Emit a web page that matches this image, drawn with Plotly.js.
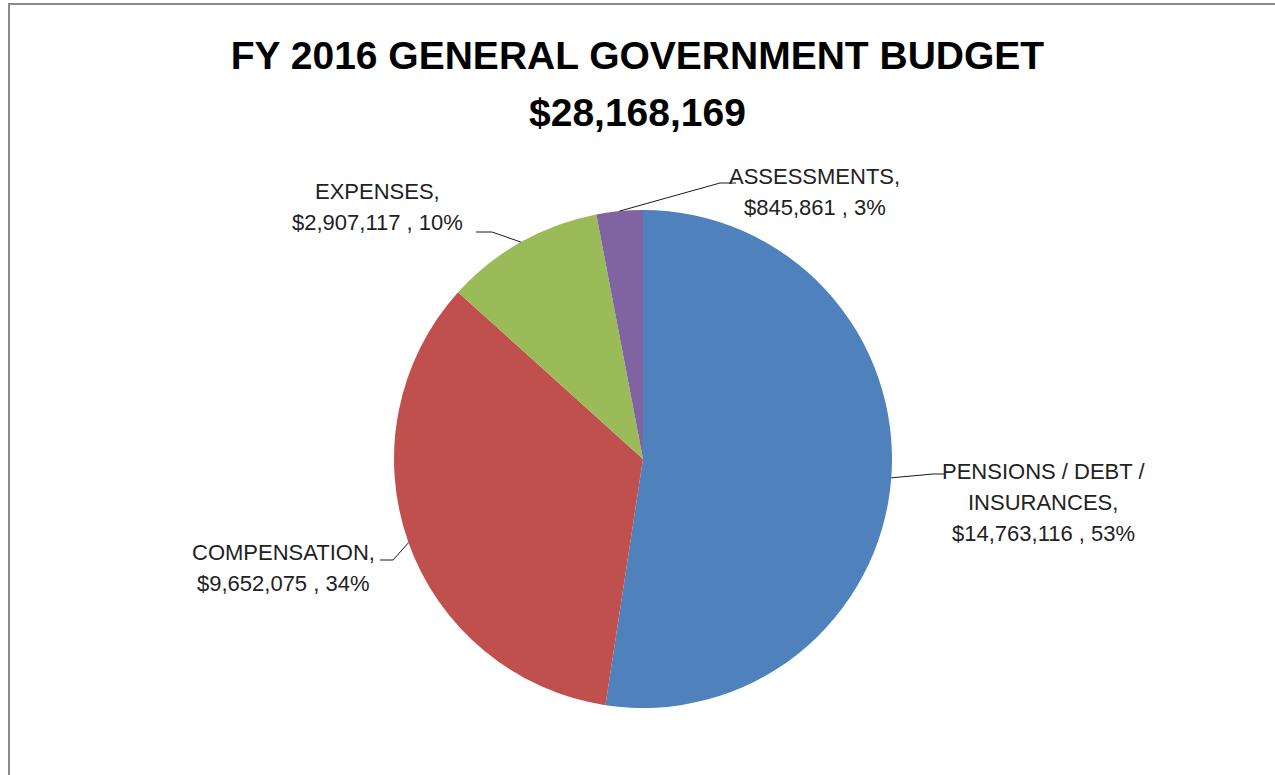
<!DOCTYPE html>
<html>
<head>
<meta charset="utf-8">
<script src="https://cdn.plot.ly/plotly-3.0.1.min.js"></script>
<style>
  html, body { margin: 0; padding: 0; background: #ffffff; }
  #wrap { position: relative; width: 1275px; height: 775px; overflow: hidden; }
  #chart { position: absolute; left: 0; top: 0; width: 1275px; height: 775px; }
  #frame { position: absolute; left: 8px; top: 3px; width: 1300px; height: 800px;
           border-left: 2px solid #8a8a8a; border-top: 2px solid #8a8a8a; pointer-events: none; }
</style>
</head>
<body>
<div id="wrap">
  <div id="chart"></div>
  <div id="frame"></div>
</div>
<script>
// ---------------- DATA ----------------
const categories = ['PENSIONS / DEBT / INSURANCES', 'COMPENSATION', 'EXPENSES', 'ASSESSMENTS'];
const categoryLines = [['PENSIONS / DEBT /', 'INSURANCES,'], ['COMPENSATION,'], ['EXPENSES,'], ['ASSESSMENTS,']];
const values = [14763116, 9652075, 2907117, 845861];
const percents = [53, 34, 10, 3];
const titleText = 'FY 2016 GENERAL GOVERNMENT BUDGET';

// ---------------- STYLE / LAYOUT ----------------
const colors = ['#4F81BD', '#C0504D', '#9BBB59', '#8064A2'];
const W = 1275, H = 775;
const cx = 643, cy = 459, R = 249;          // pie placement in pixels
// label placement (pixels): text centre, leader elbow and leader end
const labelLayout = [
  { tx: 1043, ty: 502, elbow: [933, 474], end: [945, 474] },
  { tx: 283,  ty: 568, elbow: [393, 560], end: [380, 560] },
  { tx: 377,  ty: 207, elbow: [492, 232], end: [476, 232] },
  { tx: 815,  ty: 192, elbow: [720, 183], end: [736, 183] }
];
const lineGap = 31;
const labelFont = { family: 'Liberation Sans, Arial, sans-serif', size: 22, color: '#222222' };
const titleFont = { family: 'Liberation Sans, Arial, sans-serif', size: 39, weight: 700, color: '#000000' };

const px = x => x / W;
const py = y => 1 - y / H;
const total = values.reduce((a, b) => a + b, 0);
const money = v => '$' + v.toLocaleString('en-US');

// anchors on the slice edges at each slice's mid angle (clockwise from 12 o'clock)
let cum = 0;
const anchors = values.map(v => {
  const mid = (cum + v / 2) / total;
  cum += v;
  const th = mid * 2 * Math.PI;
  return [cx + R * Math.sin(th), cy - R * Math.cos(th)];
});

const shapes = [];
const annotations = [];
values.forEach((v, i) => {
  const L = labelLayout[i];
  const a = anchors[i];
  const lineStyle = { color: '#1a1a1a', width: 1 };
  shapes.push({ type: 'line', xref: 'paper', yref: 'paper',
    x0: px(a[0]), y0: py(a[1]), x1: px(L.elbow[0]), y1: py(L.elbow[1]), line: lineStyle });
  shapes.push({ type: 'line', xref: 'paper', yref: 'paper',
    x0: px(L.elbow[0]), y0: py(L.elbow[1]), x1: px(L.end[0]), y1: py(L.end[1]), line: lineStyle });
  const lines = categoryLines[i].concat([money(v) + ' , ' + percents[i] + '%']);
  const n = lines.length;
  lines.forEach((t, k) => {
    annotations.push({
      xref: 'paper', yref: 'paper', x: px(L.tx), y: py(L.ty + (k - (n - 1) / 2) * lineGap),
      xanchor: 'center', yanchor: 'middle', align: 'center', showarrow: false,
      text: t, font: labelFont
    });
  });
});

// second title line: the budget total
annotations.push({
  xref: 'paper', yref: 'paper', x: 0.5, y: py(112),
  xanchor: 'center', yanchor: 'middle', showarrow: false,
  text: money(total), font: titleFont
});

const trace = {
  type: 'pie',
  labels: categories,
  values: values,
  sort: false,
  direction: 'clockwise',
  rotation: 0,
  textinfo: 'none',
  marker: { colors: colors, line: { width: 0 } },
  domain: { x: [px(cx - R), px(cx + R)], y: [py(cy + R), py(cy - R)] },
  hovertemplate: '%{label}<br>%{value:$,}<extra></extra>'
};

const layout = {
  width: W, height: H,
  margin: { l: 0, r: 0, t: 0, b: 0 },
  paper_bgcolor: '#ffffff',
  showlegend: false,
  title: {
    text: titleText,
    x: 0.5, xanchor: 'center', xref: 'paper',
    y: 1 - 55 / H, yanchor: 'middle', yref: 'container',
    font: titleFont
  },
  shapes: shapes,
  annotations: annotations
};

Plotly.newPlot('chart', [trace], layout, { displayModeBar: false });
</script>
</body>
</html>
